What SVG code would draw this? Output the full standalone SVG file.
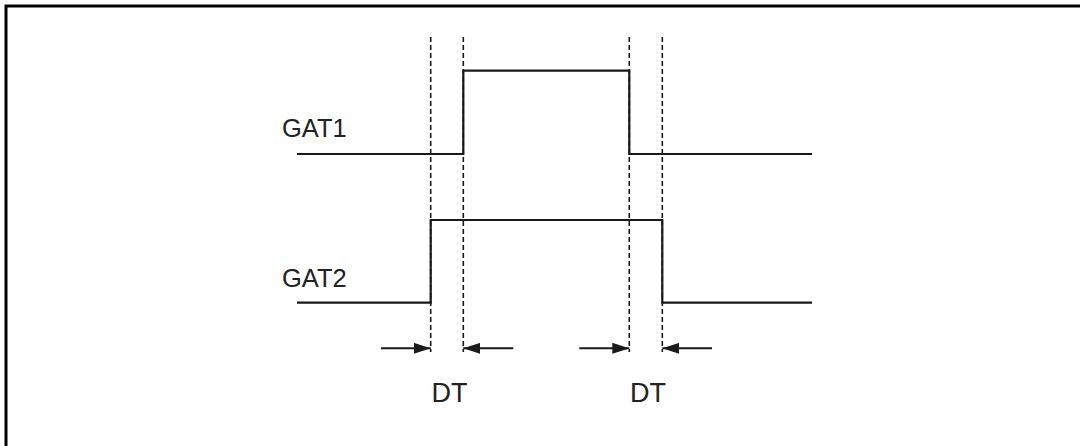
<svg xmlns="http://www.w3.org/2000/svg" width="1080" height="446" viewBox="0 0 1080 446">
<style>
.frame{fill:none;stroke:#000;stroke-width:3}
.sig{fill:none;stroke:#1a1a1a;stroke-width:2.2}
.dash{fill:none;stroke:#1a1a1a;stroke-width:1.6;stroke-dasharray:5 3}
.arr{fill:none;stroke:#1a1a1a;stroke-width:2}
.lbl{font-family:"Liberation Sans",Arial,sans-serif;fill:#222}
</style>
<defs>
<marker id="ah" viewBox="0 0 17 11" refX="17" refY="5.5" markerWidth="17" markerHeight="11" markerUnits="userSpaceOnUse" orient="auto">
<path d="M0,0 L17,5.5 L0,11 Z" fill="#1a1a1a"/>
</marker>
</defs>
<rect width="1080" height="446" fill="#fff"/>
<path class="frame" d="M6,446 V6 H1080"/>
<g id="guides">
<line class="dash" x1="430.7" y1="37" x2="430.7" y2="352"/>
<line class="dash" x1="463.3" y1="37" x2="463.3" y2="352"/>
<line class="dash" x1="629.3" y1="37" x2="629.3" y2="352"/>
<line class="dash" x1="662.3" y1="37" x2="662.3" y2="352"/>
</g>
<g id="gat1">
<text class="lbl" x="282" y="137" font-size="25.5">GAT1</text>
<path class="sig" d="M297,154 H463.3 V70.7 H629.3 V154 H812"/>
</g>
<g id="gat2">
<text class="lbl" x="282" y="287" font-size="25.5">GAT2</text>
<path class="sig" d="M297,302.7 H430.7 V220 H662.3 V302.7 H812"/>
</g>
<g id="connectors">
<line class="arr" x1="381" y1="348.3" x2="430.7" y2="348.3" marker-end="url(#ah)"/>
<line class="arr" x1="513.3" y1="348.3" x2="463.3" y2="348.3" marker-end="url(#ah)"/>
<line class="arr" x1="579.3" y1="348.3" x2="629.3" y2="348.3" marker-end="url(#ah)"/>
<line class="arr" x1="712" y1="348.3" x2="662.3" y2="348.3" marker-end="url(#ah)"/>
</g>
<g id="dt1"><text class="lbl" x="449.5" y="402.3" font-size="27" text-anchor="middle">DT</text></g>
<g id="dt2"><text class="lbl" x="648" y="402.3" font-size="27" text-anchor="middle">DT</text></g>
</svg>
